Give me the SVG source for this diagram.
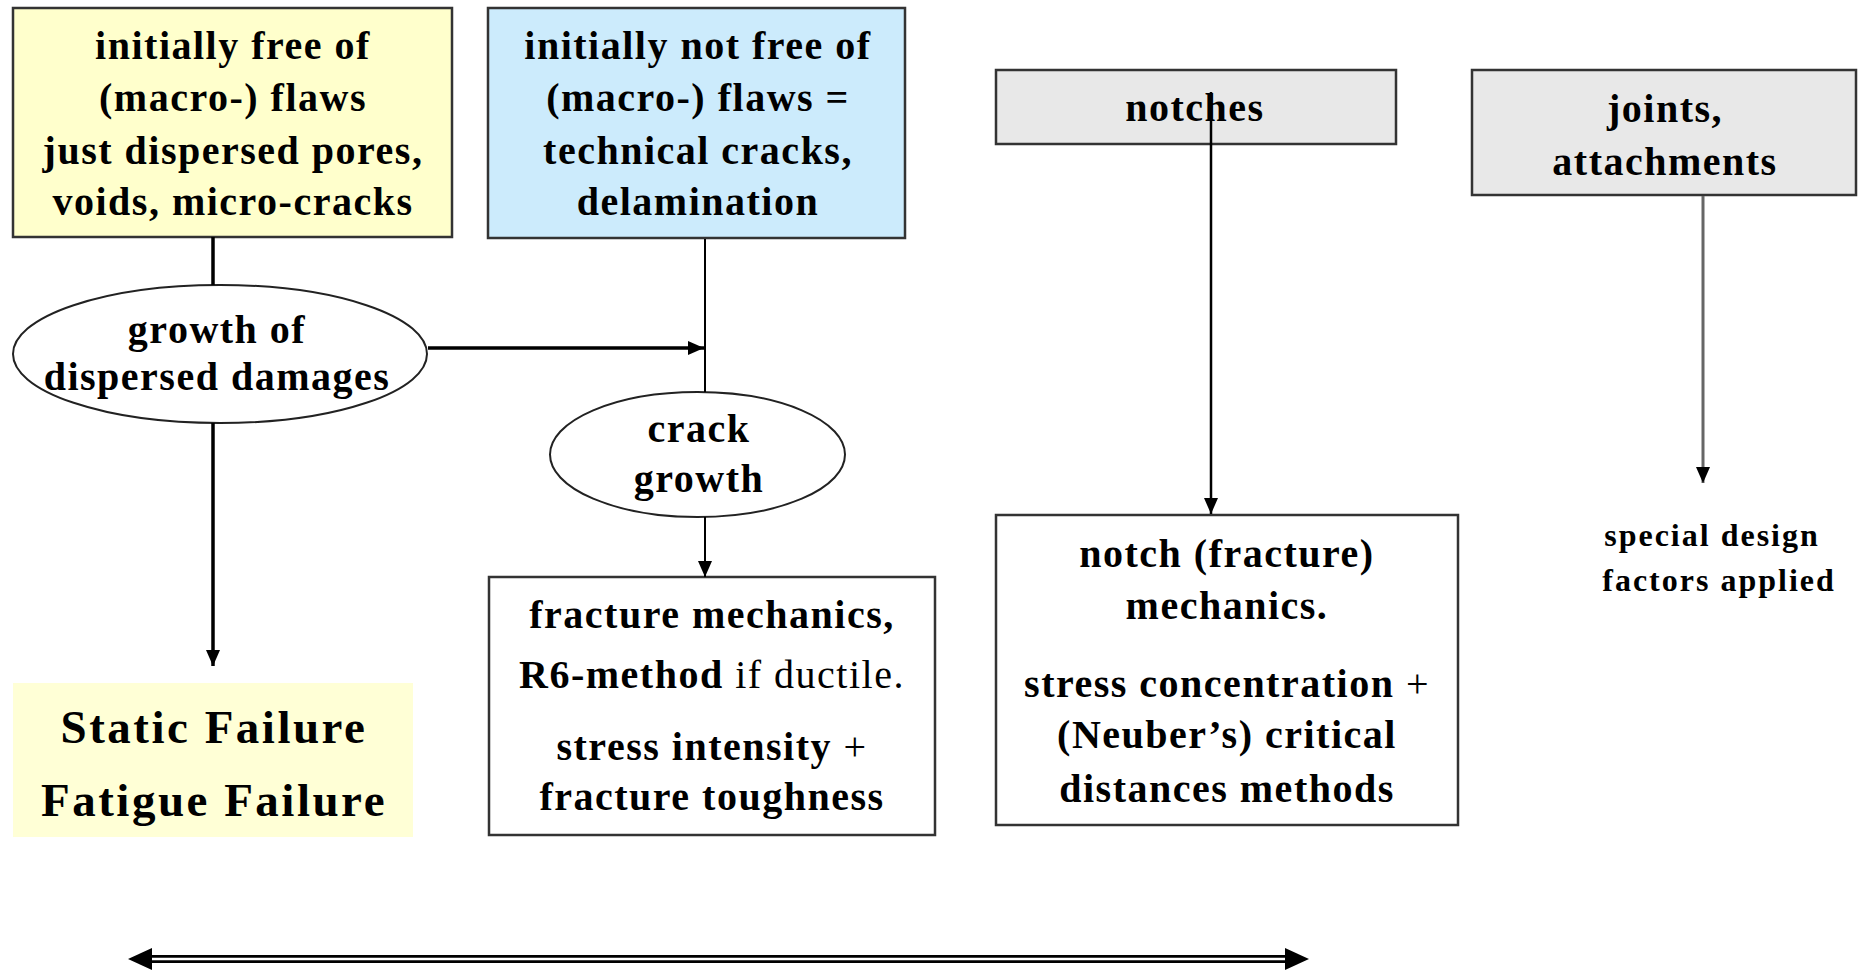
<svg xmlns="http://www.w3.org/2000/svg" width="1858" height="971" viewBox="0 0 1858 971">
<defs>
<marker id="ah" viewBox="0 0 16 16" markerWidth="16" markerHeight="16" refX="16" refY="8" orient="auto" markerUnits="userSpaceOnUse">
<path d="M0,1 L16,8 L0,15 z" fill="#000"/>
</marker>
</defs>
<style>
.box{stroke:#333;stroke-width:2.5}
.ell{fill:#fff;stroke:#222;stroke-width:2}
.t{font-family:"Liberation Serif","Times New Roman",serif;font-weight:bold;font-size:40px;letter-spacing:1.5px;fill:#000;text-anchor:middle}
.n{font-weight:normal}
.big{font-size:47px;letter-spacing:2.5px}
.sm{font-size:32px;letter-spacing:2px}
.c{fill:none;stroke:#000}
</style>
<rect width="1858" height="971" fill="#fff"/>
<g id="yellow">
<rect class="box" x="13" y="8" width="439" height="229" fill="#FFFFCC"/>
<text class="t" x="233" y="59">initially free of</text>
<text class="t" x="233" y="111">(macro-) flaws</text>
<text class="t" x="233" y="164">just dispersed pores,</text>
<text class="t" x="233" y="215">voids, micro-cracks</text>
</g>
<g id="blue">
<rect class="box" x="488" y="8" width="417" height="230" fill="#CCEBFC"/>
<text class="t" x="698" y="59">initially not free of</text>
<text class="t" x="698" y="111">(macro-) flaws =</text>
<text class="t" x="698" y="164">technical cracks,</text>
<text class="t" x="698" y="215">delamination</text>
</g>
<g id="notches">
<rect class="box" x="996" y="70" width="400" height="74" fill="#E8E8E8"/>
<text class="t" x="1195" y="121">notches</text>
</g>
<g id="joints">
<rect class="box" x="1472" y="70" width="384" height="125" fill="#E8E8E8"/>
<text class="t" x="1665" y="122">joints,</text>
<text class="t" x="1665" y="175">attachments</text>
</g>
<g id="growth-dispersed">
<ellipse class="ell" cx="220" cy="354" rx="207" ry="69"/>
<text class="t" x="217" y="343">growth of</text>
<text class="t" x="217" y="390">dispersed damages</text>
</g>
<g id="crack-growth">
<ellipse class="ell" cx="697.5" cy="454.5" rx="147.5" ry="62.5"/>
<text class="t" x="699" y="442">crack</text>
<text class="t" x="699" y="492">growth</text>
</g>
<g id="fracture">
<rect class="box" x="489" y="577" width="446" height="258" fill="#fff"/>
<text class="t" x="712" y="628">fracture mechanics,</text>
<text class="t" x="712" y="688">R6-method<tspan class="n"> if ductile.</tspan></text>
<text class="t" x="712" y="760">stress intensity<tspan class="n"> +</tspan></text>
<text class="t" x="712" y="810">fracture toughness</text>
</g>
<g id="notch-mechanics">
<rect class="box" x="996" y="515" width="462" height="310" fill="#fff"/>
<text class="t" x="1227" y="567">notch (fracture)</text>
<text class="t" x="1227" y="619">mechanics.</text>
<text class="t" x="1227" y="697">stress concentration<tspan class="n"> +</tspan></text>
<text class="t" x="1227" y="748">(Neuber’s) critical</text>
<text class="t" x="1227" y="802">distances methods</text>
</g>
<g id="failure">
<rect x="13" y="683" width="400" height="154" fill="#FFFFD6"/>
<text class="t big" x="214" y="743">Static Failure</text>
<text class="t big" x="214" y="816">Fatigue Failure</text>
</g>
<g id="special">
<text class="t sm" x="1712" y="546">special design</text>
<text class="t sm" x="1719" y="591">factors applied</text>
</g>
<g id="double-arrow">
<line x1="150" y1="959" x2="1287" y2="959" stroke="#000" stroke-width="8"/>
<line x1="150" y1="959" x2="1287" y2="959" stroke="#fff" stroke-width="2.5"/>
<polygon points="128,959 152,948 152,970" fill="#000"/>
<polygon points="1309,959 1285,948 1285,970" fill="#000"/>
</g>
<g id="connectors">
<line class="c" x1="213" y1="237" x2="213" y2="285" stroke-width="3.5"/>
<line class="c" x1="428" y1="348" x2="704" y2="348" stroke-width="3.5" marker-end="url(#ah)"/>
<line class="c" x1="213" y1="423" x2="213" y2="666" stroke-width="3.5" marker-end="url(#ah)"/>
<line class="c" x1="705" y1="239" x2="705" y2="392" stroke-width="2"/>
<line class="c" x1="705" y1="517" x2="705" y2="577" stroke-width="2" marker-end="url(#ah)"/>
<line class="c" x1="1211" y1="92" x2="1211" y2="514" stroke-width="2.5" marker-end="url(#ah)"/>
<line x1="1703" y1="196" x2="1703" y2="483" stroke="#666" stroke-width="3" marker-end="url(#ah)"/>
</g>
</svg>
